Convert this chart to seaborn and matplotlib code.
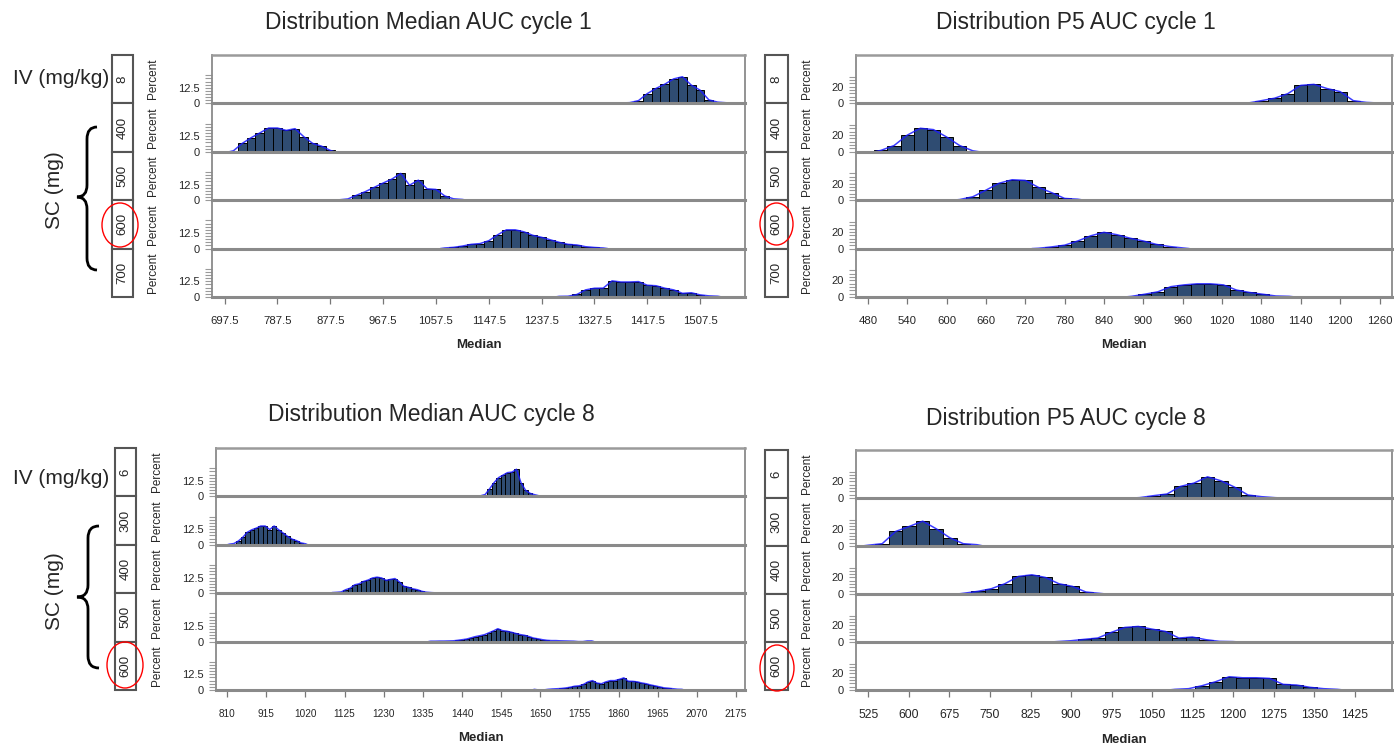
import numpy as np
import pandas as pd
import matplotlib
matplotlib.use("Agg")
import matplotlib.pyplot as plt
import seaborn as sns
from matplotlib.patches import Ellipse, Rectangle, PathPatch
from matplotlib.path import Path

sns.set_style("white")
plt.rcParams['font.family'] = ['Liberation Sans', 'DejaVu Sans']

# ---------------- data ----------------
titles = ["Distribution Median AUC cycle 1", "Distribution P5 AUC cycle 1",
          "Distribution Median AUC cycle 8", "Distribution P5 AUC cycle 8"]
doses_c1 = ["8", "400", "500", "600", "700"]
doses_c8 = ["6", "300", "400", "500", "600"]

xticks_med_c1 = [697.5, 787.5, 877.5, 967.5, 1057.5, 1147.5, 1237.5, 1327.5, 1417.5, 1507.5]
xticks_p5_c1 = [480, 540, 600, 660, 720, 780, 840, 900, 960, 1020, 1080, 1140, 1200, 1260]
xticks_med_c8 = [810, 915, 1020, 1125, 1230, 1335, 1440, 1545, 1650, 1755, 1860, 1965, 2070, 2175]
xticks_p5_c8 = [525, 600, 675, 750, 825, 900, 975, 1050, 1125, 1200, 1275, 1350, 1425]

xlim_med_c1 = (676, 1584)
xlim_p5_c1 = (462, 1279)
xlim_med_c8 = (780, 2199)
xlim_p5_c8 = (502, 1494)

# bin widths
binw_med_c1 = 15
binw_p5_c1 = 20
binw_med_c8 = 12
binw_p5_c8 = 25

# first bin left edge per row, and percent per bin
med_c1_start = [1365, 705, 885, 1065, 1260]
med_c1_pct = [
    [0.3, 0.6, 2.2, 7.8, 12.0, 15.4, 19.6, 21.3, 14.6, 10.6, 2.8, 1.0, 0.5, 0.3],
    [0.8, 6.7, 11.2, 15.1, 19.0, 19.0, 17.1, 18.5, 12.0, 6.7, 4.5, 1.1],
    [0.3, 1.0, 4.0, 6.9, 10.3, 13.7, 16.9, 21.4, 12.0, 16.0, 9.1, 8.6, 3.4, 1.1, 0.6],
    [0.5, 1.0, 2.0, 3.4, 4.0, 6.3, 11.0, 15.0, 15.0, 13.4, 10.6, 9.0, 7.0, 5.0, 3.4, 2.9, 1.5, 0.9, 0.5],
    [0.5, 0.6, 2.0, 5.7, 7.0, 7.1, 12.9, 12.0, 12.0, 12.3, 9.4, 9.0, 7.0, 5.7, 2.9, 3.4, 1.7, 0.9, 0.6],
]

p5_c1_start = [1030, 490, 610, 730, 872]
p5_c1_pct = [
    [0.3, 0.5, 3.3, 6.2, 11.6, 21.6, 22.8, 17.8, 14.1, 3.3, 1.2, 0.4],
    [1.7, 7.5, 19.9, 28.2, 26.6, 17.8, 7.5, 1.2],
    [0.8, 4.1, 12.0, 20.3, 24.5, 23.7, 15.4, 9.1, 2.1, 1.2],
    [0.4, 2.0, 4.1, 9.1, 15.4, 19.5, 16.6, 12.4, 9.1, 5.0, 2.5, 0.8],
    [0.8, 3.3, 6.2, 12.4, 14.5, 15.8, 15.8, 14.5, 8.3, 5.4, 3.3, 1.2, 0.8],
]

med_c8_start = [1472, 810, 1086, 1350, 1628]
med_c8_pct = [
    [0.3, 0.5, 1.5, 6.1, 11.0, 15.0, 17.0, 19.0, 19.4, 21.7, 11.0, 5.0, 2.5, 1.4, 0.5, 0.3],
    [0.5, 1.0, 3.0, 6.0, 10.0, 12.0, 13.3, 15.0, 15.0, 12.2, 15.0, 12.0, 9.4, 6.7, 4.5, 3.3, 1.5, 0.8],
    [0.5, 0.7, 1.0, 2.8, 4.0, 6.7, 7.5, 9.4, 10.5, 12.2, 12.8, 12.2, 10.3, 11.0, 11.7, 9.0, 5.5,
     4.7, 3.5, 2.8, 1.5, 0.8, 0.5, 0.3],
    [0.3, 0.3, 0.4, 0.4, 0.5, 0.6, 1.0, 1.5, 2.0, 3.0, 4.0, 4.7, 5.5, 7.0, 8.5, 10.3, 8.8, 8.3,
     7.5, 6.5, 5.6, 5.0, 4.0, 2.8, 2.2, 1.5, 1.0, 0.8, 0.8, 0.6, 0.5, 0.4, 0.3, 0.0, 0.0, 0.5, 0.5],
    [0.5, 0.0, 0.0, 0.5, 0.8, 1.0, 1.2, 1.6, 2.2, 3.0, 3.3, 4.5, 6.5, 7.5, 5.5, 5.0, 6.5, 7.5,
     7.5, 8.5, 9.7, 7.0, 6.9, 6.5, 5.6, 5.0, 4.0, 3.3, 2.5, 1.7, 1.4, 1.0, 0.6, 0.5],
]

p5_c8_start = [1015, 513, 690, 862, 1080]
p5_c8_pct = [
    [0.5, 2.8, 4.8, 14.0, 18.0, 25.6, 20.8, 13.2, 3.6, 1.6, 0.4],
    [1.0, 2.8, 17.6, 23.6, 30.0, 20.8, 10.0, 2.8, 1.6],
    [1.0, 3.2, 6.4, 12.4, 21.2, 23.2, 20.0, 12.4, 9.2, 2.4, 0.8],
    [0.5, 1.5, 3.2, 4.8, 11.6, 17.6, 18.8, 15.6, 12.8, 4.8, 6.0, 2.8, 0.8, 0.5],
    [0.8, 1.6, 5.2, 10.0, 16.0, 14.8, 14.8, 14.0, 6.8, 6.0, 3.2, 1.6, 0.8],
]

# ---------------- layout ----------------
W, H = 1394, 747
fig = plt.figure(figsize=(W / 100, H / 100), dpi=100)
fig.patch.set_facecolor("white")


def fx(x):
    return x / W


def fy(y):
    return 1 - y / H


BAR = "#2f4c72"
GRID = "#8a8a8a"

panels = [
    dict(title=titles[0], labels=doses_c1, ticks=xticks_med_c1, xlim=xlim_med_c1, binw=binw_med_c1,
         starts=med_c1_start, pcts=med_c1_pct, box=(212, 745, 55, 297), strip=(112, 133),
         pct_x=153, title_xy=(428, 22), xlab_y=345, ymax=38.7, ylab=12.5, ylab_s="12.5",
         comb=np.arange(0, 22.6, 2.5), fmt="{:.1f}", xls=8.2, ell=(120, 225, 36, 44)),
    dict(title=titles[1], labels=doses_c1, ticks=xticks_p5_c1, xlim=xlim_p5_c1, binw=binw_p5_c1,
         starts=p5_c1_start, pcts=p5_c1_pct, box=(856, 1392, 55, 297), strip=(765, 788),
         pct_x=807, title_xy=(1076, 22), xlab_y=345, ymax=58, ylab=20, ylab_s="20",
         comb=np.arange(0, 32.1, 4), fmt="{:.0f}", xls=8.2, ell=(776.5, 224, 33, 42)),
    dict(title=titles[2], labels=doses_c8, ticks=xticks_med_c8, xlim=xlim_med_c8, binw=binw_med_c8,
         starts=med_c8_start, pcts=med_c8_pct, box=(216, 745, 448, 690), strip=(115, 136),
         pct_x=157, title_xy=(431, 415), xlab_y=738, ymax=38.7, ylab=12.5, ylab_s="12.5",
         comb=np.arange(0, 22.6, 2.5), fmt="{:.0f}", xls=7.2, ell=(125, 665, 36, 46)),
    dict(title=titles[3], labels=doses_c8, ticks=xticks_p5_c8, xlim=xlim_p5_c8, binw=binw_p5_c8,
         starts=p5_c8_start, pcts=p5_c8_pct, box=(856, 1392, 450, 690), strip=(765, 788),
         pct_x=807, title_xy=(1066, 418), xlab_y=740, ymax=58, ylab=20, ylab_s="20",
         comb=np.arange(0, 32.1, 4), fmt="{:.0f}", xls=8.8, ell=(777, 668, 34, 46)),
]

for P in panels:
    L, R, T, B = P["box"]
    rh = (B - T) / 5.0
    for i in range(5):
        top = T + i * rh
        ax = fig.add_axes([fx(L), fy(top + rh), (R - L) / W, rh / H])
        ax.patch.set_alpha(0.0)
        p = [float(v) for v in P["pcts"][i]]
        n = len(p)
        edges = [P["starts"][i] + P["binw"] * k for k in range(n + 1)]
        centers = [P["starts"][i] + P["binw"] * (k + 0.5) for k in range(n)]
        df = pd.DataFrame({"value": centers, "pct": p})
        sns.histplot(data=df, x="value", weights="pct", bins=edges, ax=ax, color=BAR,
                     edgecolor="black", linewidth=0.7, alpha=1.0)
        poly = pd.DataFrame({"value": [edges[0]] + centers + [edges[-1]],
                             "pct": [0.0] + p + [0.0]})
        sns.lineplot(data=poly, x="value", y="pct", ax=ax,
                     color="#1a1aff", linewidth=1.1, alpha=0.85)
        ax.set_xlim(*P["xlim"])
        ax.set_ylim(0, P["ymax"])
        ax.set_xlabel("")
        ax.set_ylabel("")
        for s in ("left", "right"):
            ax.spines[s].set_color(GRID)
            ax.spines[s].set_linewidth(1.3)
        ax.spines["bottom"].set_color(GRID)
        ax.spines["bottom"].set_linewidth(2.2)
        if i == 0:
            ax.spines["top"].set_color("#9a9a9a")
            ax.spines["top"].set_linewidth(1.8)
        else:
            ax.spines["top"].set_visible(False)
        ax.set_yticks([0, P["ylab"]])
        ax.set_yticklabels(["0", P["ylab_s"]])
        ax.set_yticks(P["comb"], minor=True)
        ax.tick_params(axis="y", which="both", left=True, direction="out", length=5,
                       width=0.8, color="#9a9a9a", labelsize=8, pad=4)
        if i == 4:
            ax.set_xticks(P["ticks"])
            ax.set_xticklabels([P["fmt"].format(t) for t in P["ticks"]])
            ax.tick_params(axis="x", which="both", bottom=True, direction="out", length=5,
                           width=0.9, color="#777777", labelsize=P["xls"], pad=9)
        else:
            ax.set_xticks([])
        # strip box
        sl, sr = P["strip"]
        fig.patches.append(Rectangle((fx(sl), fy(top + rh)), (sr - sl) / W, rh / H,
                                     transform=fig.transFigure, facecolor="white",
                                     edgecolor="#555555", linewidth=1.5, zorder=3))
        fig.text(fx((sl + sr) / 2), fy(top + rh / 2), P["labels"][i], rotation=90,
                 ha="center", va="center", fontsize=9.5, zorder=4)
        fig.text(fx(P["pct_x"]), fy(top + rh / 2), "Percent", rotation=90,
                 ha="center", va="center", fontsize=8.5)
    fig.text(fx(P["title_xy"][0]), fy(P["title_xy"][1]), P["title"], ha="center",
             va="center", fontsize=16.5)
    fig.text(fx((L + R) / 2), fy(P["xlab_y"]), "Median", ha="center", va="center",
             fontsize=9.5, fontweight="bold")
    cx, cy, ew, eh = P["ell"]
    fig.patches.append(Ellipse((fx(cx), fy(cy)), ew / W, eh / H, transform=fig.transFigure,
                               fill=False, edgecolor="red", linewidth=1.0, zorder=5))

# left annotations
for yiv, ysc, brace in [(79, 190, (97, 87, 77, 127, 197, 270)),
                        (479, 591, (99, 88, 77, 526, 597, 668))]:
    fig.text(fx(13), fy(yiv), "IV (mg/kg)", ha="left", va="center", fontsize=15)
    fig.text(fx(55), fy(ysc), "SC (mg)", ha="center", va="center", fontsize=15, rotation=90)
    xr, xm, xl, y0, ym, y1 = brace
    r = 12
    pts = [(xr, y0), (xm, y0), (xm, y0 + r), (xm, ym - r), (xm, ym), (xl, ym),
           (xm, ym), (xm, ym + r), (xm, y1 - r), (xm, y1), (xr, y1)]
    codes = [Path.MOVETO, Path.CURVE3, Path.CURVE3, Path.LINETO, Path.CURVE3, Path.CURVE3,
             Path.CURVE3, Path.CURVE3, Path.LINETO, Path.CURVE3, Path.CURVE3]
    verts = [(fx(a), fy(b)) for a, b in pts]
    fig.patches.append(PathPatch(Path(verts, codes), transform=fig.transFigure, fill=False,
                                 edgecolor="black", linewidth=2.0))

fig.savefig("out.png", dpi=100, facecolor="white")
